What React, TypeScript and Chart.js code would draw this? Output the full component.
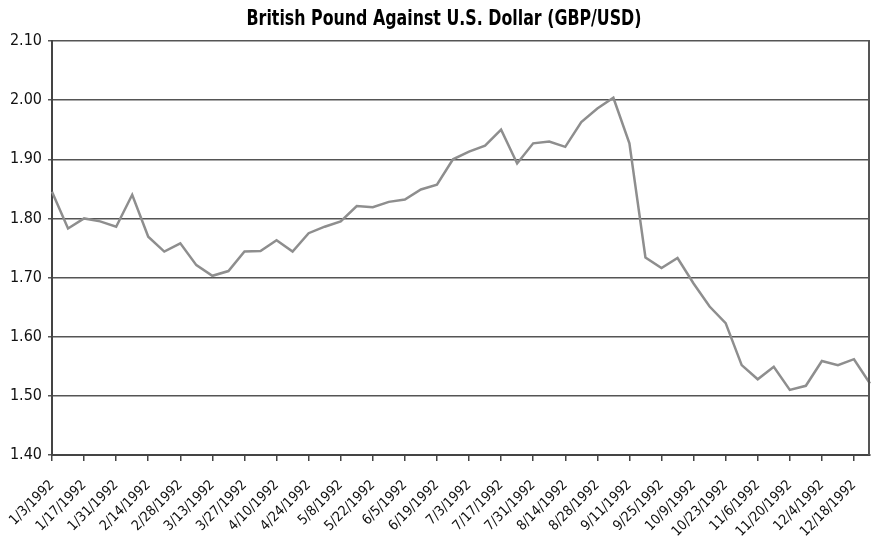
import React, { useEffect, useRef } from 'react';
import { Chart, registerables } from 'chart.js';

Chart.register(...registerables);

const TITLE = 'British Pound Against U.S. Dollar (GBP/USD)';

const categories = [
  '1/3/1992', '1/10/1992', '1/17/1992', '1/24/1992', '1/31/1992',
  '2/7/1992', '2/14/1992', '2/21/1992', '2/28/1992',
  '3/6/1992', '3/13/1992', '3/20/1992', '3/27/1992',
  '4/3/1992', '4/10/1992', '4/17/1992', '4/24/1992',
  '5/1/1992', '5/8/1992', '5/15/1992', '5/22/1992', '5/29/1992',
  '6/5/1992', '6/12/1992', '6/19/1992', '6/26/1992',
  '7/3/1992', '7/10/1992', '7/17/1992', '7/24/1992', '7/31/1992',
  '8/7/1992', '8/14/1992', '8/21/1992', '8/28/1992',
  '9/4/1992', '9/11/1992', '9/18/1992', '9/25/1992',
  '10/2/1992', '10/9/1992', '10/16/1992', '10/23/1992', '10/30/1992',
  '11/6/1992', '11/13/1992', '11/20/1992', '11/27/1992',
  '12/4/1992', '12/11/1992', '12/18/1992', '12/25/1992',
];

const gbpUsd = [
  1.845, 1.783, 1.800, 1.795, 1.786,
  1.840, 1.769, 1.744, 1.758,
  1.721, 1.703, 1.711, 1.744,
  1.745, 1.763, 1.744, 1.775,
  1.786, 1.795, 1.821, 1.819, 1.828,
  1.832, 1.849, 1.857, 1.900,
  1.913, 1.923, 1.950, 1.893, 1.927,
  1.930, 1.921, 1.963, 1.986,
  2.004, 1.927, 1.734, 1.716,
  1.733, 1.690, 1.651, 1.623, 1.552,
  1.528, 1.549, 1.510, 1.517,
  1.559, 1.552, 1.562, 1.521,
];

const Y_MIN = 1.4;
const Y_MAX = 2.1;
const Y_STEP = 0.1;

const TICK_FONT_FAMILY = '"DejaVu Sans Condensed", "Liberation Sans", sans-serif';

const decorPlugin = {
  id: 'decor',
  afterDraw(chart: any) {
    const ctx = chart.ctx as CanvasRenderingContext2D;
    const { top, bottom, right } = chart.chartArea;
    ctx.save();
    ctx.strokeStyle = '#555';
    ctx.lineWidth = 2;
    ctx.beginPath();
    ctx.moveTo(right - 1, top);
    ctx.lineTo(right - 1, bottom);
    ctx.stroke();
    ctx.restore();

    ctx.save();
    ctx.font = 'bold 22px "DejaVu Sans Condensed", "Liberation Sans", sans-serif';
    const w = ctx.measureText(TITLE).width;
    const sx = 395 / w;
    ctx.translate(444, 25);
    ctx.scale(sx, 1);
    ctx.textAlign = 'center';
    ctx.textBaseline = 'alphabetic';
    ctx.fillStyle = '#000';
    ctx.fillText(TITLE, 0, 0);
    ctx.restore();
  },
};

export default function App() {
  const canvasRef = useRef<HTMLCanvasElement | null>(null);

  useEffect(() => {
    document.body.style.margin = '0';
    const canvas = canvasRef.current;
    if (!canvas) return;
    const chart = new Chart(canvas, {
      type: 'line',
      data: {
        labels: categories,
        datasets: [
          {
            data: gbpUsd,
            borderColor: '#8e8e8e',
            borderWidth: 2.5,
            pointRadius: 0,
            tension: 0,
            fill: false,
          },
        ],
      },
      options: {
        responsive: false,
        animation: false,
        devicePixelRatio: 1,
        layout: { padding: { top: 41, right: 1, bottom: 0, left: 0 } },
        plugins: {
          legend: { display: false },
          title: { display: false },
          tooltip: { enabled: false },
        },
        scales: {
          x: {
            offset: false,
            afterFit: (s: any) => {
              s.height = 84;
              s.paddingLeft = 0;
              s.paddingRight = 0;
            },
            grid: {
              display: true,
              drawOnChartArea: false,
              drawTicks: true,
              tickLength: 6,
              lineWidth: 1.5,
              color: (c: any) => (c.index % 2 === 0 ? '#444' : 'rgba(0,0,0,0)'),
            },
            border: { display: true, color: '#444', width: 2 },
            ticks: {
              autoSkip: false,
              maxRotation: 45,
              minRotation: 45,
              padding: 16,
              color: '#111',
              font: { family: TICK_FONT_FAMILY, size: 14 },
              callback: (_v: any, i: number) => (i % 2 === 0 ? categories[i] : ''),
            },
          },
          y: {
            min: Y_MIN,
            max: Y_MAX,
            afterFit: (s: any) => {
              s.width = 52;
            },
            grid: {
              color: '#555',
              lineWidth: 1.5,
              tickLength: 4,
            },
            border: { display: true, color: '#444', width: 2 },
            ticks: {
              stepSize: Y_STEP,
              padding: 6,
              color: '#111',
              font: { family: TICK_FONT_FAMILY, size: 16 },
              callback: (v: any) => Number(v).toFixed(2),
            },
          },
        },
      },
      plugins: [decorPlugin],
    });
    return () => chart.destroy();
  }, []);

  return (
    <div style={{ width: 871, height: 539, background: '#fff' }}>
      <canvas ref={canvasRef} width={871} height={539} />
    </div>
  );
}
